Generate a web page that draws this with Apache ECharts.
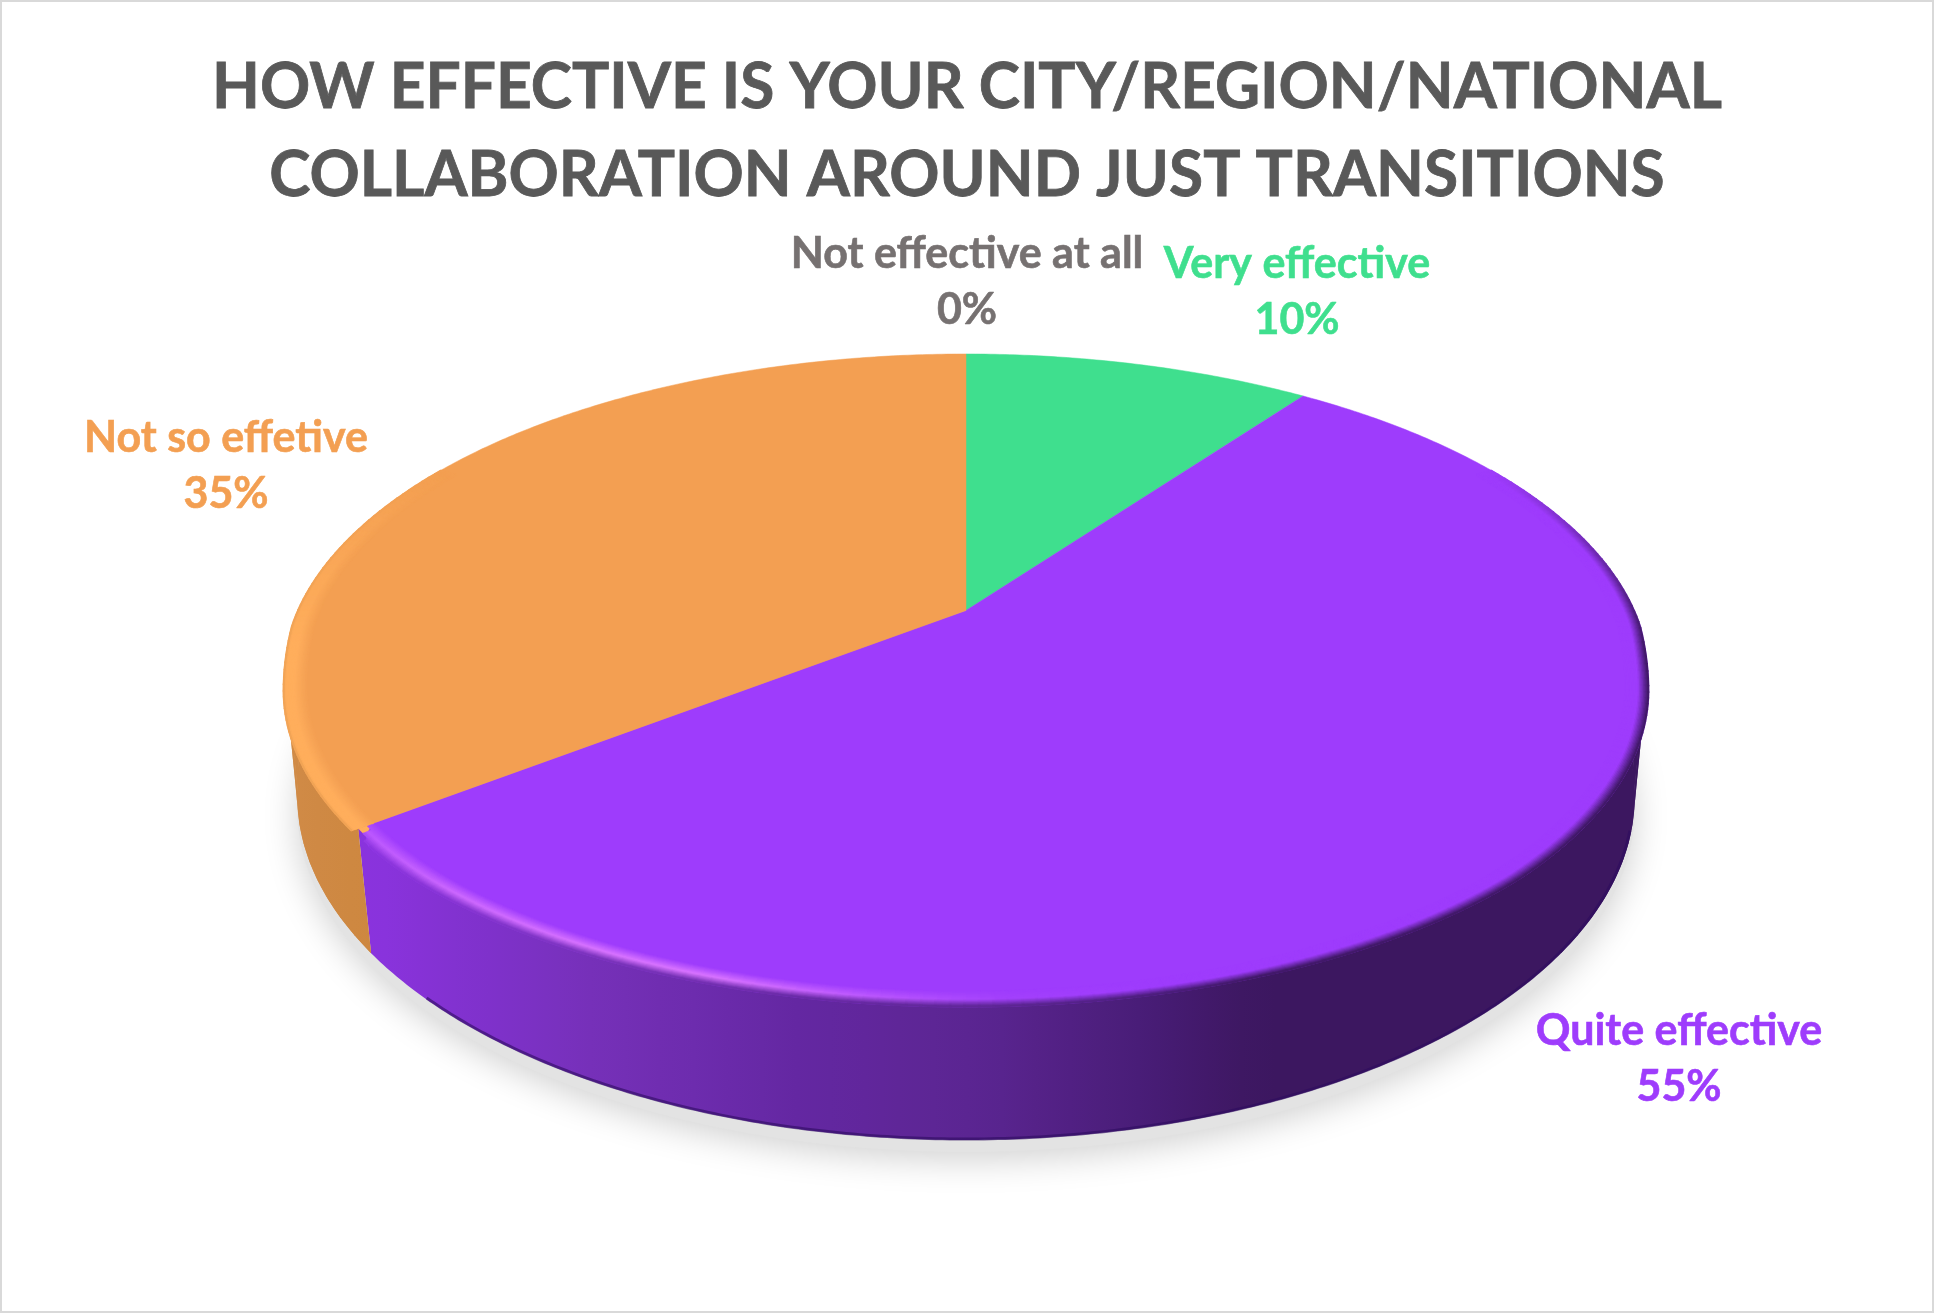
<!DOCTYPE html>
<html><head><meta charset="utf-8">
<style>html,body{margin:0;padding:0;background:#fff}#c{width:1934px;height:1313px}</style>
<script src="https://cdn.jsdelivr.net/npm/echarts@6/dist/echarts.min.js"></script>
</head><body><div id="c"></div>
<script>
const titleLines = ['HOW EFFECTIVE IS YOUR CITY/REGION/NATIONAL', 'COLLABORATION AROUND JUST TRANSITIONS'];
const categories = ['Very effective', 'Quite effective', 'Not so effetive', 'Not effective at all'];
const values = [10, 55, 35, 0];

const sliceColors = ['#3FDF8E', '#9E3CFC', '#F39F52', '#767171'];
const highlightColors = ['#3FDF8E', '#D873FF', '#FFAE5C', '#767171'];
const labelCenters = [[1297, 292], [1679, 1059], [226, 466], [967, 282]];
const wallStops = [
  [[0, '#2FA86A']],
  [[371, '#8A33DE'], [600, '#7530B8'], [800, '#6427A2'], [986, '#5A2590'], [1150, '#481C76'], [1258, '#3C1760'], [1660, '#3C1760']],
  [[280, '#D18B47'], [372, '#CD873F']],
  [[0, '#767171']]
];
const highlightStops = [
  [[0, 0]],
  [[360, .5], [450, .8], [600, 1], [720, 1], [870, .5], [1000, .1], [1150, 0], [1700, 0]],
  [[0, 1]],
  [[0, 0]]
];
const topFace = {cx: 966, cy: 610.5, R: 668.5, a: 309, k: -0.2046};
const baseFace = {cx: 966, cy: 734.4, R: 658, a: 333, k: -0.179};
const total = values.reduce((p, v) => p + v, 0);

const clamp = (v, a, b) => Math.max(a, Math.min(b, v));
const hex = c => [1, 3, 5].map(i => parseInt(c.substr(i, 2), 16));
const mix = (c1, c2, t) => { const A = hex(c1), B = hex(c2);
  return '#' + A.map((v, i) => Math.round(v + (B[i] - v) * t).toString(16).padStart(2, '0')).join(''); };
function colorAt(stops, x) {
  if (x <= stops[0][0]) return stops[0][1];
  for (let i = 1; i < stops.length; i++) if (x <= stops[i][0]) {
    const t = (x - stops[i - 1][0]) / (stops[i][0] - stops[i - 1][0]);
    return mix(stops[i - 1][1], stops[i][1], t);
  }
  return stops[stops.length - 1][1];
}
function numAt(stops, x) {
  if (x <= stops[0][0]) return stops[0][1];
  for (let i = 1; i < stops.length; i++) if (x <= stops[i][0]) {
    const t = (x - stops[i - 1][0]) / (stops[i][0] - stops[i - 1][0]);
    return stops[i - 1][1] + (stops[i][1] - stops[i - 1][1]) * t;
  }
  return stops[stops.length - 1][1];
}
// perspective projection of a point of the pie disc; deg = clockwise from 12 o'clock
function pt(face, deg, r, shift) {
  const th = deg * Math.PI / 180, c = Math.sin(th) * r, s = -Math.cos(th) * r;
  const d = 1 + face.k * s;
  const dy = shift ? 14 * clamp((s - .05) / .15, 0, 1) - 6 * clamp((s - .7) / .3, 0, 1) : 0;
  return [face.cx + face.R * c / d, face.cy + face.a * s / d + dy];
}
function arc(face, a0, a1, r, shift, step) {
  const out = [], n = Math.max(1, Math.ceil(Math.abs(a1 - a0) / (step || .5)));
  for (let i = 0; i <= n; i++) out.push(pt(face, a0 + (a1 - a0) * i / n, r, shift));
  return out;
}
function frontRange(a0, a1) { // part of the slice arc on the viewer's side
  const lo = Math.max(a0, 78), hi = Math.min(a1, 282);
  return hi > lo ? [lo, hi] : null;
}
function renderSlice(params, api) {
  const i = params.dataIndex, v = api.value(0);
  const kids = [];
  const a0 = values.slice(0, i).reduce((p, q) => p + q, 0) / total * 360;
  const a1 = a0 + v / total * 360;
  const base = sliceColors[i];
  const rounded = a1 > 90 && a1 < 270;   // the slice end that faces the viewer has a rounded corner
  const cornerSpan = 3.2;
  const rimR = (ang, r) => {
    if (!rounded) return r;
    const u = clamp((a1 - ang) / cornerSpan, 0, 1);
    return r - .032 * (1 - u) * (1 - u);
  };
  if (v > 0) {
    // this slice's face continues under the neighbour's rounded corner
    if (a0 > 90 && a0 < 270) kids.push({type: 'polygon', z2: 0,
      shape: {points: [[topFace.cx, topFace.cy]].concat(arc(topFace, a0 - cornerSpan - 1, a0 + 1, 1, true))}, style: {fill: highlightColors[i]}});
    const fr = frontRange(a0, a1);
    if (fr) {
      const wallFill = {type: 'linear', global: true, x: 283, y: 0, x2: 1652, y2: 0,
        colorStops: Array.from({length: 41}, (_, j) => ({offset: j / 40, color: colorAt(wallStops[i], 283 + 1369 * j / 40)}))};
      const poly = arc(topFace, fr[0], fr[1], .99, true).concat(arc(baseFace, fr[1], fr[0], 1, false));
      kids.push({type: 'polygon', z2: 1, shape: {points: poly}, style: {fill: wallFill, stroke: null}});
      // the wall seen edge-on at both sides: ruled strips fill out to the tangent line
      for (let ang = fr[0]; ang < fr[1]; ang += 3) {
        const e = Math.min(ang + 3, fr[1]), q = (ang + e) / 2;
        if (q > 125 && q < 235) continue;
        kids.push({type: 'polygon', z2: 1, shape: {points: [pt(topFace, ang, .995, true), pt(topFace, e, .995, true), pt(baseFace, e, 1, false), pt(baseFace, ang, 1, false)]},
          style: {fill: wallFill, stroke: null}});
      }
      if (i === 1) kids.push({type: 'polyline', z2: 2, shape: {points: arc(baseFace, fr[0] + 28, fr[1] - 8, .998, false)},
        style: {fill: null, stroke: 'rgba(45,12,95,.6)', lineWidth: 3}});
    }
    const n = Math.ceil((a1 - a0) * 2);
    const top = [[topFace.cx, topFace.cy]];
    for (let j = 0; j <= n; j++) { const ang = a0 + (a1 - a0) * j / n; top.push(pt(topFace, ang, rimR(ang, 1), true)); }
    kids.push({type: 'polygon', z2: 3, shape: {points: top}, style: {fill: base, stroke: base, lineWidth: .5}});
    // soft bevel along the rim, drawn as concentric strips
    const bands = 18, step = 1;
    if (i !== 0) for (let b = 0; b < bands; b++) {
      const t = (b + .5) / bands, r = .966 + .034 * t;
      for (let ang = Math.max(a0, 60); ang < Math.min(a1, 300); ang += step) {
        const end = Math.min(ang + step + .2, Math.min(a1, 300));
        const am = (ang + end) / 2;
        if (rounded && r > rimR(am, 1)) continue;
        const mid = pt(topFace, am, r, true);
        const sv = -Math.cos(am * Math.PI / 180);
        const fade = clamp((sv + .5) / .6, 0, 1);
        const h = numAt(highlightStops[i], mid[0]) * fade;
        const hi = mix(base, highlightColors[i], h);
        const wall = colorAt(wallStops[i], mid[0]);
        const inner = t < .55 ? mix(base, hi, t / .55) : hi;
        const edge = i === 2 ? clamp((t - .9) / .1, 0, 1) * .4 : clamp((t - .55) / .45, 0, 1);
        const col = mix(inner, wall, edge * fade);
        kids.push({type: 'polyline', z2: 4, shape: {points: arc(topFace, ang, end, r, true, 2)},
          style: {fill: null, stroke: col, lineWidth: 2.1, lineCap: 'butt'}});
      }
    }
  }
  const lc = labelCenters[i];
  kids.push({type: 'text', z2: 10, style: {
    text: categories[i] + '\n' + v + '%', x: lc[0], y: lc[1], fill: base, stroke: base, lineWidth: .6,
    font: 'bold 43px Lato', align: 'center', verticalAlign: 'middle', lineHeight: 56}});
  return {type: 'group', children: kids};
}
function renderShadow() {
  const pts = arc(baseFace, 0, 360, 1.0, false, 1).map(p => [p[0], p[1] + 12]);
  return {type: 'polygon', shape: {points: pts}, style: {fill: '#E3E3E3', shadowBlur: 34, shadowColor: '#D2D2D2', shadowOffsetY: 8}};
}
const chart = echarts.init(document.getElementById('c'), null, {renderer: 'canvas'});
chart.setOption({
  animation: false,
  backgroundColor: '#fff',
  graphic: [
    {type: 'rect', shape: {x: 1, y: 1, width: 1932, height: 1311}, style: {fill: 'none', stroke: '#D9D9D9', lineWidth: 2}, z: 0},
    {type: 'text', x: 967, y: 131, scaleX: .972, z: 5, style: {
      text: titleLines.join('\n'), fill: '#595959', stroke: '#595959', lineWidth: .8,
      font: 'bold 64px Lato', align: 'center', verticalAlign: 'middle', lineHeight: 88}}
  ],
  series: [
    {type: 'custom', name: 'shadow', coordinateSystem: 'none', silent: true, z: 1, data: [[total]], renderItem: renderShadow},
    {type: 'custom', name: 'effectiveness', coordinateSystem: 'none', silent: true, z: 2,
     data: values.map((v, i) => ({name: categories[i], value: [v]})), renderItem: renderSlice}
  ]
});
</script></body></html>
